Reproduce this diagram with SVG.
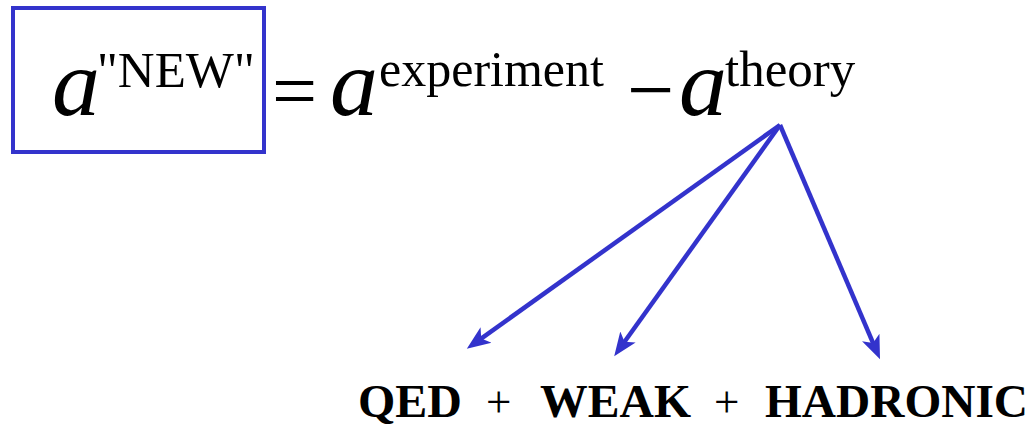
<svg xmlns="http://www.w3.org/2000/svg" width="1034" height="427" viewBox="0 0 1034 427">
<style>
.it{font-family:"Liberation Serif","Times New Roman",serif;font-style:italic;fill:#000}
.rm{font-family:"Liberation Serif","Times New Roman",serif;fill:#000}
.bd{font-family:"Liberation Serif","Times New Roman",serif;font-weight:bold;fill:#000;font-size:46px}
.pl{font-family:"Liberation Serif","Times New Roman",serif;fill:#000;font-size:45px}
.conn{stroke:#3333cc;stroke-width:4.5;fill:none}
</style>
<defs>
<marker id="ah" markerUnits="userSpaceOnUse" markerWidth="26" markerHeight="22" refX="12" refY="8" orient="auto" viewBox="0 0 22 16">
<path d="M0,0 L20,8 L0,16 L5,8 Z" fill="#3333cc"/>
</marker>
</defs>
<rect width="1034" height="427" fill="#fff"/>
<g id="box">
<rect x="13" y="8" width="251" height="144" fill="none" stroke="#3333cc" stroke-width="4"/>
</g>
<g id="equation">
<text class="it" x="52" y="115" font-size="96">a</text>
<text class="rm" x="97" y="87" font-size="51">"NEW"</text>
<text class="rm" x="272" y="118" font-size="80">=</text>
<text class="it" x="330" y="115" font-size="96">a</text>
<text class="rm" x="379" y="86" font-size="50">experiment</text>
<text class="rm" x="627" y="118" font-size="84">−</text>
<text class="it" x="679" y="115" font-size="96">a</text>
<text class="rm" x="725" y="86" font-size="51">theory</text>
</g>
<g id="connectors">
<line class="conn" x1="780" y1="125" x2="474.5" y2="343.3" marker-end="url(#ah)"/>
<line class="conn" x1="780" y1="125" x2="619.7" y2="348.5" marker-end="url(#ah)"/>
<line class="conn" x1="780" y1="125" x2="876.3" y2="350.6" marker-end="url(#ah)"/>
</g>
<g id="terms">
<text class="bd" x="358" y="417" textLength="104" lengthAdjust="spacingAndGlyphs">QED</text>
<text class="pl" x="486" y="417">+</text>
<text class="bd" x="540" y="417" textLength="151" lengthAdjust="spacingAndGlyphs">WEAK</text>
<text class="pl" x="714" y="417">+</text>
<text class="bd" x="765" y="417" textLength="263" lengthAdjust="spacingAndGlyphs">HADRONIC</text>
</g>
</svg>
